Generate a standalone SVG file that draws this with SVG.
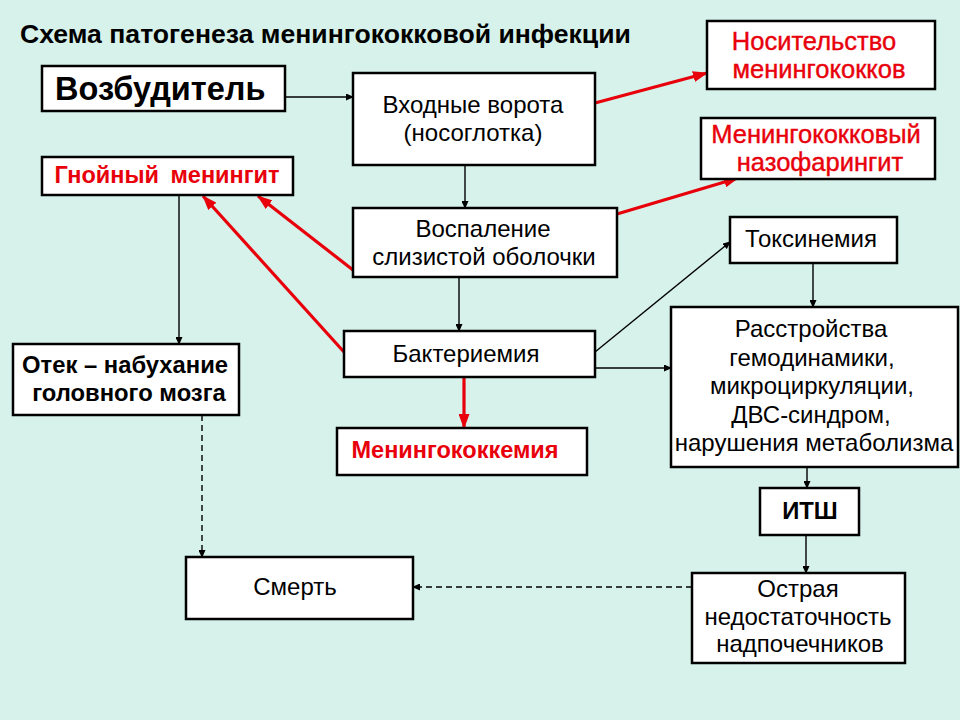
<svg xmlns="http://www.w3.org/2000/svg" width="960" height="720" viewBox="0 0 960 720">
<style>
text{font-family:"Liberation Sans",Arial,sans-serif;}
.box{fill:#ffffff;stroke:#000000;stroke-width:2.5;}
.t{font-size:24px;fill:#000;text-anchor:middle;}
.b{font-size:23.8px;font-weight:bold;fill:#000;text-anchor:middle;}
.r{font-size:25.5px;fill:#e8000b;text-anchor:middle;stroke:#e8000b;stroke-width:0.4;}
.rb{font-size:23.5px;font-weight:bold;fill:#e8000b;text-anchor:middle;}
.k{stroke:#000;stroke-width:1.4;fill:none;marker-end:url(#ak);}
.kd{stroke:#000;stroke-width:1.4;fill:none;stroke-dasharray:6,4;marker-end:url(#ak);}
.rd{stroke:#e8000b;stroke-width:3.2;fill:none;marker-end:url(#ar);}
</style>
<defs>
<marker id="ak" markerUnits="userSpaceOnUse" markerWidth="8" markerHeight="7" refX="7" refY="3.5" orient="auto"><path d="M0,0 L8,3.5 L0,7 z" fill="#000"/></marker>
<marker id="ar" markerUnits="userSpaceOnUse" markerWidth="15" markerHeight="11" refX="14" refY="5.5" orient="auto"><path d="M0,0 L15,5.5 L0,11 z" fill="#e8000b"/></marker>
</defs>
<rect width="960" height="720" fill="#d7f2ea"/>
<text x="20" y="43" style="font-size:26.6px;font-weight:bold;fill:#000">Схема патогенеза менингококковой инфекции</text>
<g id="connectors">
<line class="k" x1="286" y1="97" x2="353" y2="97"/>
<line class="k" x1="465" y1="165" x2="465" y2="208"/>
<line class="k" x1="459" y1="277" x2="459" y2="331"/>
<line class="k" x1="595" y1="352" x2="730" y2="242"/>
<line class="k" x1="595" y1="368" x2="671" y2="368"/>
<line class="k" x1="813" y1="263" x2="813" y2="307"/>
<line class="k" x1="807" y1="467" x2="807" y2="488"/>
<line class="k" x1="806" y1="535" x2="806" y2="573"/>
<line class="k" x1="179" y1="195" x2="179" y2="344"/>
<line class="kd" x1="202" y1="415" x2="202" y2="557"/>
<line class="kd" x1="692" y1="587" x2="413" y2="587"/>
<line class="rd" x1="595" y1="103" x2="707" y2="73"/>
<line class="rd" x1="617" y1="214" x2="738" y2="178"/>
<line class="rd" x1="353" y1="270" x2="258" y2="196"/>
<line class="rd" x1="344" y1="352" x2="203" y2="196"/>
<line class="rd" x1="464" y1="377" x2="464" y2="428"/>
</g>
<g id="vozbuditel"><rect class="box" x="42" y="66" width="243" height="45"/><text x="55" y="100" style="font-size:32.5px;font-weight:bold;fill:#000">Возбудитель</text></g>
<g id="vhodnye"><rect class="box" x="353" y="73" width="242" height="92"/><text class="t" x="473" y="113">Входные ворота</text><text class="t" x="473" y="141">(носоглотка)</text></g>
<g id="nositelstvo"><rect class="box" x="707" y="21" width="228" height="68"/><text class="r" x="814" y="50">Носительство</text><text class="r" x="819" y="78">менингококков</text></g>
<g id="nazofaringit"><rect class="box" x="701" y="118" width="234" height="61"/><text class="r" x="816" y="143">Менингококковый</text><text class="r" x="820" y="171">назофарингит</text></g>
<g id="gnoyny"><rect class="box" x="42" y="157" width="251" height="38"/><text class="rb" x="167" y="183" style="word-spacing:5px">Гнойный менингит</text></g>
<g id="vospalenie"><rect class="box" x="353" y="208" width="264" height="69"/><text class="t" x="483" y="237">Воспаление</text><text class="t" x="484" y="265">слизистой оболочки</text></g>
<g id="bakteriemia"><rect class="box" x="344" y="331" width="251" height="46"/><text class="t" x="466" y="362">Бактериемия</text></g>
<g id="meningokokkemia"><rect class="box" x="337" y="428" width="250" height="47"/><text class="rb" x="455" y="458">Менингококкемия</text></g>
<g id="otek"><rect class="box" x="13" y="344" width="226" height="71"/><text class="b" x="125" y="373">Отек – набухание</text><text class="b" x="129" y="401">головного мозга</text></g>
<g id="toksinemia"><rect class="box" x="730" y="217" width="167" height="46"/><text class="t" x="811" y="247">Токсинемия</text></g>
<g id="rasstroystva"><rect class="box" x="671" y="307" width="287" height="160"/><text class="t" x="811" y="337">Расстройства</text><text class="t" x="812" y="366">гемодинамики,</text><text class="t" x="812" y="394">микроциркуляции,</text><text class="t" x="811" y="423">ДВС-синдром,</text><text class="t" x="814" y="451">нарушения метаболизма</text></g>
<g id="itsh"><rect class="box" x="760" y="488" width="99" height="47"/><text class="b" x="810" y="519">ИТШ</text></g>
<g id="smert"><rect class="box" x="186" y="557" width="227" height="62"/><text class="t" x="295" y="595">Смерть</text></g>
<g id="ostraya"><rect class="box" x="692" y="573" width="213" height="90"/><text class="t" x="798" y="597">Острая</text><text class="t" x="798" y="625">недостаточность</text><text class="t" x="800" y="652">надпочечников</text></g>
</svg>
